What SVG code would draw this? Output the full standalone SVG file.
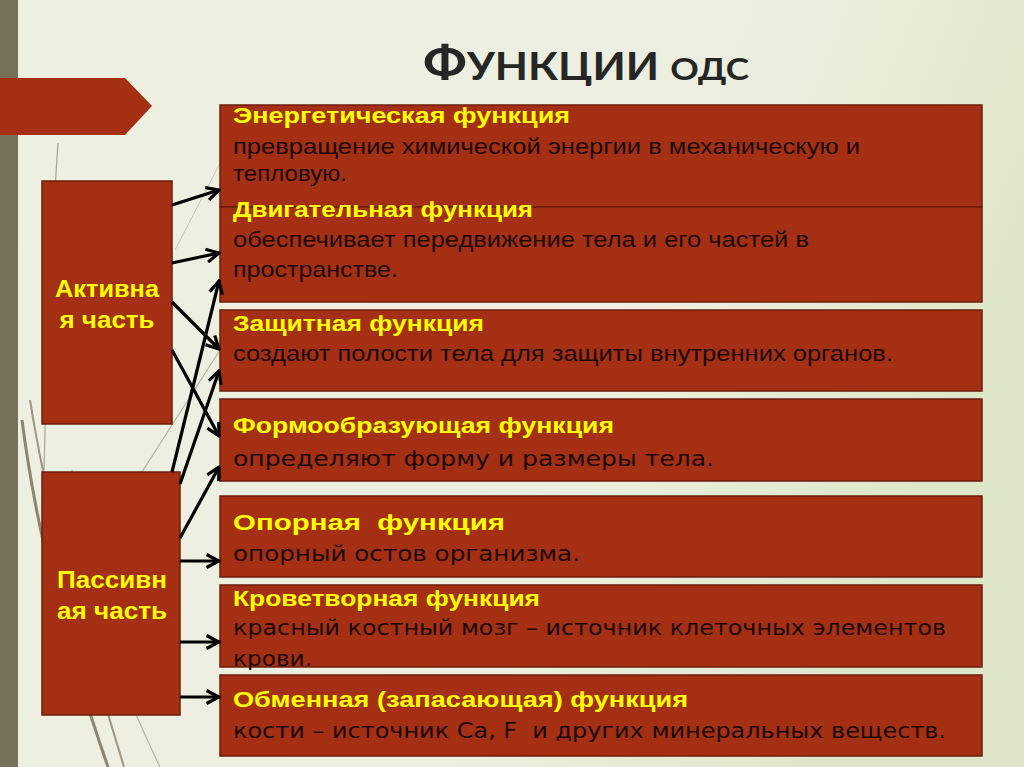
<svg xmlns="http://www.w3.org/2000/svg" width="1024" height="767" viewBox="0 0 1024 767">
  <defs>
    <linearGradient id="bg" x1="0" y1="0" x2="1" y2="0.3">
      <stop offset="0" stop-color="#eef0e2"/>
      <stop offset="0.7" stop-color="#ecefdf"/>
      <stop offset="1" stop-color="#dfe7ca"/>
    </linearGradient>
    <marker id="arr" viewBox="0 0 16 16" markerUnits="userSpaceOnUse" markerWidth="16" markerHeight="16" refX="14" refY="8" orient="auto">
      <path d="M1.5,1.5 L14,8 L1.5,14.5" fill="none" stroke="#000" stroke-width="3.2" stroke-linejoin="miter"/>
    </marker>
    <style>
      .box { fill: #a52f13; stroke: #6e1d0b; stroke-width: 1.5; }
      .ttl { font-family: "Liberation Sans", Arial, sans-serif; font-weight: bold; font-size: 22px; fill: #ffff00; }
      .body { font-family: "Liberation Sans", Arial, sans-serif; font-size: 22.5px; fill: #1c0803; }
      .body2 { font-family: "DejaVu Sans", "Liberation Sans", sans-serif; font-size: 21px; fill: #1c0803; }
      .side { font-family: "Liberation Sans", Arial, sans-serif; font-weight: bold; font-size: 23px; fill: #ffff00; text-anchor: middle; }
      .con { stroke: #000; stroke-width: 3.2; fill: none; marker-end: url(#arr); }
      .grass { fill: none; stroke: #7a735c; }
    </style>
  </defs>

  <!-- background -->
  <rect x="0" y="0" width="1024" height="767" fill="url(#bg)"/>
  <rect x="0" y="0" width="18" height="767" fill="#77705a"/>

  <!-- decorative grass -->
  <g id="grass">
    <path class="grass" d="M58,143 C50,260 46,380 44,470" stroke-width="1.2" opacity="0.6"/>
    <path class="grass" d="M22,420 C40,560 78,680 108,767" stroke-width="3" opacity="0.85"/>
    <path class="grass" d="M30,400 C52,540 98,680 124,767" stroke-width="2" opacity="0.7"/>
    <path class="grass" d="M72,470 C82,600 128,700 160,767" stroke-width="1.2" opacity="0.5"/>
    <path class="grass" d="M220,350 L140,475" stroke-width="1.2" opacity="0.5"/>
    <path class="grass" d="M232,140 L175,250" stroke-width="1" opacity="0.35"/>
  </g>

  <!-- banner -->
  <polygon id="banner" points="0,78 125,78 152,106 125,135 0,135" fill="#a52f13"/>

  <!-- title -->
  <text id="title" x="423" y="80" textLength="326" lengthAdjust="spacingAndGlyphs" font-family="Lato, 'Liberation Sans', sans-serif" font-weight="bold" fill="#262626"><tspan font-size="48">Ф</tspan><tspan font-size="38" style="text-transform:uppercase">ункции</tspan><tspan font-size="31" dx="10">ОДС</tspan></text>

  <!-- function boxes -->
  <g id="f1">
    <rect class="box" x="220" y="105" width="762" height="102"/>
    <text class="ttl" x="233" y="123" textLength="337" lengthAdjust="spacingAndGlyphs">Энергетическая функция</text>
    <text class="body" x="233" y="154" textLength="627" lengthAdjust="spacingAndGlyphs">превращение химической энергии в механическую и</text>
    <text class="body" x="233" y="181" textLength="114" lengthAdjust="spacingAndGlyphs">тепловую.</text>
  </g>
  <g id="f2">
    <rect class="box" x="220" y="207" width="762" height="95"/>
    <text class="ttl" x="233" y="217" textLength="300" lengthAdjust="spacingAndGlyphs">Двигательная функция</text>
    <text class="body" x="233" y="247" textLength="576" lengthAdjust="spacingAndGlyphs">обеспечивает передвижение тела и его частей в</text>
    <text class="body" x="233" y="277" textLength="165" lengthAdjust="spacingAndGlyphs">пространстве.</text>
  </g>
  <g id="f3">
    <rect class="box" x="220" y="310" width="762" height="81"/>
    <text class="ttl" x="233" y="331" textLength="251" lengthAdjust="spacingAndGlyphs">Защитная функция</text>
    <text class="body" x="233" y="361" textLength="660" lengthAdjust="spacingAndGlyphs">создают полости тела для защиты внутренних органов.</text>
  </g>
  <g id="f4">
    <rect class="box" x="220" y="399" width="762" height="82"/>
    <text class="ttl" x="233" y="433" textLength="381" lengthAdjust="spacingAndGlyphs">Формообразующая функция</text>
    <text class="body2" x="233" y="466" textLength="481" lengthAdjust="spacingAndGlyphs">определяют форму и размеры тела.</text>
  </g>
  <g id="f5">
    <rect class="box" x="220" y="496" width="762" height="81"/>
    <text class="ttl" x="233" y="530" textLength="272" lengthAdjust="spacingAndGlyphs" xml:space="preserve">Опорная  функция</text>
    <text class="body2" x="233" y="561" textLength="347" lengthAdjust="spacingAndGlyphs">опорный остов организма.</text>
  </g>
  <g id="f6">
    <rect class="box" x="220" y="585" width="762" height="82"/>
    <text class="ttl" x="233" y="606" textLength="307" lengthAdjust="spacingAndGlyphs">Кроветворная функция</text>
    <text class="body2" x="233" y="635" textLength="713" lengthAdjust="spacingAndGlyphs">красный костный мозг – источник клеточных элементов</text>
    <text class="body2" x="233" y="666" textLength="79" lengthAdjust="spacingAndGlyphs">крови.</text>
  </g>
  <g id="f7">
    <rect class="box" x="220" y="675" width="762" height="81"/>
    <text class="ttl" x="233" y="707" textLength="455" lengthAdjust="spacingAndGlyphs">Обменная (запасающая) функция</text>
    <text class="body2" x="233" y="738" textLength="713" lengthAdjust="spacingAndGlyphs" xml:space="preserve">кости – источник Са, F  и других минеральных веществ.</text>
  </g>

  <!-- side boxes -->
  <g id="active">
    <rect class="box" x="42" y="181" width="130" height="243"/>
    <text class="side" x="107" y="297" textLength="104" lengthAdjust="spacingAndGlyphs">Активна</text>
    <text class="side" x="107" y="328" textLength="95" lengthAdjust="spacingAndGlyphs">я часть</text>
  </g>
  <g id="passive">
    <rect class="box" x="42" y="472" width="138" height="243"/>
    <text class="side" x="112" y="588" textLength="110" lengthAdjust="spacingAndGlyphs">Пассивн</text>
    <text class="side" x="112" y="619" textLength="110" lengthAdjust="spacingAndGlyphs">ая часть</text>
  </g>

  <!-- connectors -->
  <g id="connectors">
    <line class="con" x1="172" y1="205" x2="219" y2="190"/>
    <line class="con" x1="172" y1="263" x2="219" y2="253"/>
    <line class="con" x1="172" y1="302" x2="219" y2="349"/>
    <line class="con" x1="172" y1="350" x2="219" y2="436"/>
    <line class="con" x1="172" y1="472" x2="219" y2="281"/>
    <line class="con" x1="180" y1="484" x2="219" y2="371"/>
    <line class="con" x1="180" y1="538" x2="219" y2="467"/>
    <line class="con" x1="180" y1="561" x2="219" y2="561"/>
    <line class="con" x1="180" y1="642" x2="219" y2="642"/>
    <line class="con" x1="180" y1="697" x2="219" y2="697"/>
  </g>
</svg>
